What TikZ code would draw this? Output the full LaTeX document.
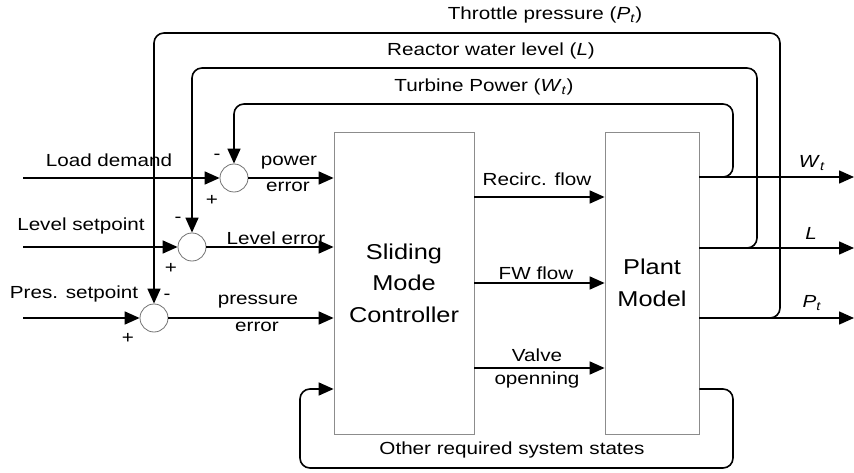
\documentclass[tikz,border=0pt]{standalone}
\usepackage{fontspec}
\setmainfont[FakeStretch=1.18]{Liberation Sans}
\usetikzlibrary{arrows.meta}
\begin{document}
\begin{tikzpicture}[x=1pt,y=-1pt,
  sig/.style={line width=1.6pt,-{Triangle[length=15pt,width=13pt]}},
  fb/.style={sig,rounded corners=10pt},
  blk/.style={draw=black!45,line width=0.8pt,inner sep=0pt,align=center,font=\fontsize{21.5}{31.5}\selectfont},
  sum/.style={circle,draw=black!55,line width=0.8pt,minimum size=28pt,inner sep=0pt},
  lbl/.style={font=\fontsize{17.5}{21}\selectfont,inner sep=0pt}]
\useasboundingbox (0,0) rectangle (854,473);
% blocks
\node[blk,minimum width=140pt,minimum height=302pt] (smc) at (404,283) {Sliding\\Mode\\Controller};
\node[blk,minimum width=94pt,minimum height=302pt] (plant) at (652,283) {Plant\\Model};
% summing junctions
\node[sum] (s1) at (234,178) {};
\node[sum] (s2) at (192,247) {};
\node[sum] (s3) at (154,318) {};
% coordinates
\coordinate (i1) at (23,178);
\coordinate (i2) at (23,247);
\coordinate (i3) at (23,318);
\coordinate (oW) at (854,177);
\coordinate (oL) at (854,248);
\coordinate (oP) at (854,318);
\coordinate (cW) at (733,104);
\coordinate (cL) at (757,68);
\coordinate (cP) at (780,33);
\coordinate (yR) at (0,197);
\coordinate (yF) at (0,283);
\coordinate (yV) at (0,368);
\coordinate (bR) at (733,468);
\coordinate (bL) at (300,389);
% inputs
\draw[sig] (i1) -- (s1.west);
\draw[sig] (i2) -- (s2.west);
\draw[sig] (i3) -- (s3.west);
\draw[sig] (s1.east) -- (smc.west|-s1.east);
\draw[sig] (s2.east) -- (smc.west|-s2.east);
\draw[sig] (s3.east) -- (smc.west|-s3.east);
% controller to plant
\draw[sig] (smc.east|-yR) -- (plant.west|-yR);
\draw[sig] (smc.east|-yF) -- (plant.west|-yF);
\draw[sig] (smc.east|-yV) -- (plant.west|-yV);
% outputs
\draw[sig] (plant.east|-oW) -- (oW);
\draw[sig] (plant.east|-oL) -- (oL);
\draw[sig] (plant.east|-oP) -- (oP);
% feedback loops
\draw[fb] (plant.east|-oW) -| (cW) -| (s1.north);
\draw[fb] (plant.east|-oL) -| (cL) -| (s2.north);
\draw[fb] (plant.east|-oP) -| (cP) -| (s3.north);
\draw[fb] (plant.east|-bL) -| (bR) -| (bL) -- (smc.west|-bL);
% labels
\node[lbl] at (109,160) {Load demand};
\node[lbl] at (81,226) {Level setpoint};
\node[lbl] at (74,294) {Pres. setpoint};
\node[lbl] at (289,163) {power};
\node[lbl] at (288,187) {error};
\node[lbl] at (276,238) {Level error};
\node[lbl] at (258,302) {pressure};
\node[lbl] at (257,327) {error};
\node[lbl] at (537,179) {Recirc. flow};
\node[lbl] at (536,273) {FW flow};
\node[lbl] at (537,355) {Valve};
\node[lbl] at (537,380) {openning};
\node[lbl] at (512,450) {Other required system states};
\node[lbl] at (545,15) {Throttle pressure (\textit{P}\textsubscript{\textit{t}})};
\node[lbl] at (491,51) {Reactor water level (\textit{L})};
\node[lbl] at (484,87) {Turbine Power (\textit{W}\textsubscript{\textit{t}})};
\node[lbl] at (812,163) {\textit{W}\textsubscript{\textit{t}}};
\node[lbl] at (811,233) {\textit{L}};
\node[lbl] at (812,303) {\textit{P}\textsubscript{\textit{t}}};
% signs
\node[lbl] at (217,157) {-};
\node[lbl] at (212,200) {+};
\node[lbl] at (178,220) {-};
\node[lbl] at (171,268) {+};
\node[lbl] at (167,297) {-};
\node[lbl] at (128,338) {+};
\end{tikzpicture}
\end{document}
